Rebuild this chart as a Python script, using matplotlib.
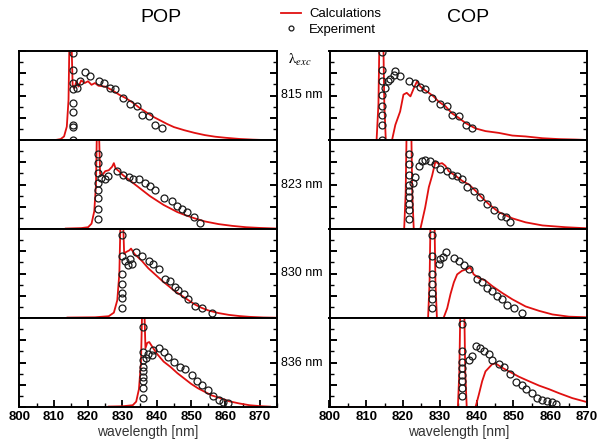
import matplotlib
matplotlib.use("Agg")
import matplotlib.pyplot as plt
from matplotlib.lines import Line2D
from matplotlib.ticker import MultipleLocator

plt.rcParams["font.family"] = ["Liberation Sans", "DejaVu Sans"]
plt.rcParams["mathtext.fontset"] = "stix"

# excitation wavelengths (rows)
exc_labels = ["815 nm", "823 nm", "830 nm", "836 nm"]

# ---- POP, calculations ----
pop815_calc_x = [810.5, 812, 813, 813.8, 814.3, 814.6, 815.1, 815.5, 816.0, 816.6, 817.2, 818, 819, 820, 821,
                 822, 823, 825, 827, 829, 831, 833, 835, 837, 839, 841, 843, 845, 848, 851, 854, 857, 860,
                 864, 868, 871]
pop815_calc_y = [0, 0.01, 0.04, 0.15, 0.45, 1.2, 1.2, 0.62, 0.58, 0.66, 0.6, 0.67, 0.64, 0.66, 0.62, 0.64,
                 0.61, 0.6, 0.56, 0.51, 0.47, 0.42, 0.36, 0.31, 0.26, 0.22, 0.18, 0.145, 0.11, 0.08, 0.055,
                 0.037, 0.025, 0.012, 0.004, 0.0]

pop823_calc_x = [813.5, 818, 820, 821, 821.8, 822.3, 822.6, 823.1, 823.5, 824, 825, 826, 827, 827.5, 828, 829,
                 830, 832, 834, 836, 838, 840, 842, 844, 846, 848, 851, 854, 858, 862, 866, 870, 875]
pop823_calc_y = [0.005, 0.01, 0.02, 0.06, 0.2, 0.5, 1.2, 1.2, 0.62, 0.6, 0.65, 0.66, 0.7, 0.74, 0.68, 0.65,
                 0.61, 0.55, 0.49, 0.43, 0.37, 0.32, 0.27, 0.23, 0.19, 0.16, 0.12, 0.085, 0.055, 0.035, 0.02,
                 0.012, 0.005]

pop830_calc_x = [814, 822, 826, 827.5, 828.5, 829.1, 829.5, 830.1, 830.5, 831, 832, 832.5, 833.5, 835.7,
                 837.5, 839.5, 841.5, 843.4, 845.3, 847.3, 849.2, 851.2, 853, 855, 858, 861, 864, 867, 871, 875]
pop830_calc_y = [0.005, 0.008, 0.02, 0.06, 0.2, 0.5, 1.2, 1.2, 0.72, 0.74, 0.76, 0.78, 0.72, 0.64, 0.56,
                 0.49, 0.42, 0.36, 0.30, 0.25, 0.2, 0.15, 0.115, 0.085, 0.055, 0.035, 0.022, 0.013, 0.006,
                 0.003]

pop836_calc_x = [826, 830, 833, 834, 834.8, 835.4, 835.8, 836.3, 836.7, 837.2, 837.8, 838.3, 840, 842, 844,
                 846, 848, 850, 852, 854, 856, 858.5, 861, 864, 867, 870, 873]
pop836_calc_y = [0.005, 0.008, 0.02, 0.06, 0.2, 0.5, 1.2, 1.2, 0.66, 0.72, 0.73, 0.7, 0.6, 0.51, 0.45,
                 0.38, 0.32, 0.26, 0.21, 0.17, 0.13, 0.1, 0.065, 0.04, 0.02, 0.01, 0.004]

# ---- POP, experiment ----
pop815_exp_x = [815.5] * 9 + [816.8, 817.7, 819.2, 820.6, 823.1, 824.5, 826.5, 827.9, 830.3, 832.3,
                              834.2, 835.7, 837.6, 839.5, 841.5]
pop815_exp_y = [0.98, 0.79, 0.64, 0.57, 0.42, 0.32, 0.17, 0.15, 0.0,
                0.58, 0.66, 0.76, 0.72, 0.66, 0.64, 0.58, 0.57, 0.47, 0.40, 0.38, 0.28, 0.27, 0.17, 0.13]

pop823_exp_x = [823.0] * 8 + [823.8, 825.0, 825.8, 828.4, 830.3, 831.8, 833.1, 834.7, 836.6, 838.1, 839.5,
                              842.0, 844.4, 845.9, 847.3, 848.8, 850.7, 852.6]
pop823_exp_y = [0.84, 0.74, 0.63, 0.52, 0.44, 0.35, 0.22, 0.11,
                0.57, 0.56, 0.59, 0.65, 0.61, 0.58, 0.56, 0.56, 0.52, 0.48, 0.44, 0.35, 0.31, 0.26, 0.22,
                0.19, 0.14, 0.07]

pop830_exp_x = [829.8] * 7 + [830.8, 831.7, 832.7, 832.3, 833.9, 835.7, 837.6, 839.0, 840.5, 842.4, 843.9,
                              845.3, 846.3, 847.8, 849.2, 851.2, 853.1, 856.0]
pop830_exp_y = [0.93, 0.70, 0.49, 0.38, 0.28, 0.23, 0.11,
                0.64, 0.59, 0.61, 0.66, 0.74, 0.70, 0.64, 0.61, 0.55, 0.44, 0.42, 0.35, 0.32, 0.27, 0.21,
                0.14, 0.11, 0.06]

pop836_exp_x = [836.1] * 9 + [836.9, 837.5, 838.6, 838.9, 840.5, 842.0, 843.4, 844.9, 846.8, 848.3, 850.2,
                              851.7, 853.1, 855.0, 856.5, 858.0, 859.4, 860.8]
pop836_exp_y = [0.9, 0.62, 0.53, 0.45, 0.40, 0.34, 0.29, 0.21, 0.10,
                0.55, 0.60, 0.58, 0.64, 0.66, 0.62, 0.56, 0.51, 0.45, 0.43, 0.36, 0.29, 0.25, 0.19, 0.12,
                0.08, 0.06, 0.04]

# ---- COP, calculations ----
cop815_calc_x = [800, 812.8, 813.3, 813.6, 814.6, 814.9, 815.3, 817.0, 817.9, 819.2, 820.1, 821, 822, 822.9,
                 823.8, 824.7, 825.6, 827, 828.3, 829.7, 831.5, 833.3, 835.1, 837, 839.7, 842.4, 846, 849.7,
                 853.3, 857.9, 862.4, 866.9, 870]
cop815_calc_y = [0, 0, 0.4, 1.2, 1.2, 0.4, 0, 0, 0.17, 0.32, 0.51, 0.53, 0.49, 0.58, 0.66, 0.60, 0.57,
                 0.53, 0.49, 0.43, 0.38, 0.30, 0.25, 0.19, 0.13, 0.10, 0.08, 0.05, 0.04, 0.02, 0.01, 0.005, 0]

cop823_calc_x = [800, 820.3, 820.7, 821.0, 822.2, 822.5, 822.9, 824.7, 826, 827, 827.9, 828.8, 829.7, 830.6,
                 831.5, 832.4, 834.2, 836.1, 837.9, 839.7, 841.5, 843.3, 846, 849.7, 853.3, 857.9, 864.2, 870]
cop823_calc_y = [0, 0, 0.4, 1.2, 1.2, 0.4, 0, 0, 0.24, 0.47, 0.6, 0.76, 0.73, 0.74, 0.71, 0.65, 0.60,
                 0.54, 0.50, 0.43, 0.35, 0.28, 0.19, 0.12, 0.075, 0.04, 0.02, 0.008]

cop830_calc_x = [800, 826.8, 827.2, 827.5, 828.5, 828.8, 829.2, 831, 832, 832.9, 833.8, 834.7, 836, 837.4,
                 838.3, 839.2, 840.6, 842.4, 844.2, 847, 849.7, 853.3, 857, 860.6, 865.1, 870]
cop830_calc_y = [0, 0, 0.4, 1.2, 1.2, 0.4, 0, 0, 0.11, 0.27, 0.40, 0.49, 0.53, 0.55, 0.57, 0.49, 0.45,
                 0.42, 0.36, 0.28, 0.21, 0.13, 0.08, 0.04, 0.015, 0.008]

cop836_calc_x = [800, 834.9, 835.3, 835.6, 836.6, 836.9, 837.3, 839.7, 840.6, 841.5, 842.4, 843.3, 844.2,
                 845.1, 847, 848.8, 851.5, 854.2, 857, 859.7, 862.4, 866, 870]
cop836_calc_y = [0, 0, 0.4, 1.2, 1.2, 0.4, 0, 0, 0.14, 0.29, 0.40, 0.44, 0.48, 0.49, 0.44, 0.40, 0.34,
                 0.29, 0.24, 0.20, 0.155, 0.10, 0.055]

# ---- COP, experiment ----
cop815_exp_x = [814.2] * 8 + [815.1, 816.0, 816.5, 817.4, 817.9, 819.2, 821.5, 823.3, 824.7, 826.0, 827.8,
                              830.1, 831.9, 833.3, 835.1, 837.0, 838.8]
cop815_exp_y = [0.99, 0.79, 0.66, 0.51, 0.38, 0.28, 0.17, 0.0,
                0.58, 0.66, 0.68, 0.73, 0.77, 0.72, 0.66, 0.64, 0.60, 0.57, 0.47, 0.40, 0.38, 0.28, 0.27,
                0.17, 0.13]

cop823_exp_x = [821.5] * 9 + [822.6, 823.3, 824.2, 825.1, 826.0, 827.4, 828.8, 830.1, 832.0, 833.3, 834.7,
                              836.1, 837.4, 839.2, 841.0, 842.9, 844.7, 846.5, 847.9, 849.2]
cop823_exp_y = [0.84, 0.73, 0.61, 0.50, 0.43, 0.36, 0.28, 0.21, 0.11,
                0.52, 0.58, 0.71, 0.76, 0.78, 0.76, 0.73, 0.67, 0.65, 0.61, 0.60, 0.56, 0.47, 0.43, 0.36,
                0.28, 0.21, 0.15, 0.13, 0.08]

cop830_exp_x = [827.9] * 7 + [829.7, 830.1, 830.8, 831.7, 833.8, 835.1, 836.5, 837.9, 840.1, 841.5, 842.9,
                              844.2, 845.6, 847.0, 848.3, 850.1, 852.4]
cop830_exp_y = [0.93, 0.70, 0.49, 0.38, 0.28, 0.21, 0.11,
                0.61, 0.66, 0.68, 0.74, 0.67, 0.64, 0.59, 0.55, 0.44, 0.40, 0.34, 0.30, 0.25, 0.21, 0.15,
                0.11, 0.06]

cop836_exp_x = [835.9] * 8 + [837.9, 838.8, 839.7, 840.8, 842.0, 843.3, 844.2, 846.0, 847.4, 849.2, 850.6,
                              852.4, 853.3, 855.1, 856.5, 857.9, 859.2, 860.6, 861.5]
cop836_exp_y = [0.93, 0.63, 0.51, 0.44, 0.36, 0.29, 0.21, 0.12,
                0.53, 0.57, 0.68, 0.66, 0.63, 0.59, 0.53, 0.48, 0.45, 0.37, 0.28, 0.25, 0.20, 0.16, 0.10,
                0.08, 0.07, 0.06, 0.03]

pop_calc = [(pop815_calc_x, pop815_calc_y), (pop823_calc_x, pop823_calc_y),
            (pop830_calc_x, pop830_calc_y), (pop836_calc_x, pop836_calc_y)]
pop_exp = [(pop815_exp_x, pop815_exp_y), (pop823_exp_x, pop823_exp_y),
           (pop830_exp_x, pop830_exp_y), (pop836_exp_x, pop836_exp_y)]
cop_calc = [(cop815_calc_x, cop815_calc_y), (cop823_calc_x, cop823_calc_y),
            (cop830_calc_x, cop830_calc_y), (cop836_calc_x, cop836_calc_y)]
cop_exp = [(cop815_exp_x, cop815_exp_y), (cop823_exp_x, cop823_exp_y),
           (cop830_exp_x, cop830_exp_y), (cop836_exp_x, cop836_exp_y)]

RED = "#e01010"
W, H = 603, 447

fig = plt.figure(figsize=(W / 100, H / 100), dpi=100)

columns = [
    (19.4, 277.0, (800, 875), pop_calc, pop_exp),
    (329.5, 587.0, (800, 870), cop_calc, cop_exp),
]
top_px, row_px = 51, 89

for left_px, right_px, xlim, calcs, exps in columns:
    for i in range(4):
        y_top = top_px + row_px * i
        ax = fig.add_axes([left_px / W, 1 - (y_top + row_px) / H,
                           (right_px - left_px) / W, row_px / H])
        cx, cy = calcs[i]
        ex, ey = exps[i]
        ax.plot(cx, cy, color=RED, lw=1.3, zorder=2, clip_on=True)
        ax.plot(ex, ey, "o", ms=5, mfc="none", mec="#1a1a1a", mew=0.9, zorder=3)
        ax.set_xlim(*xlim)
        ax.set_ylim(0, 1)
        ax.yaxis.set_major_locator(MultipleLocator(0.25))
        ax.yaxis.set_minor_locator(MultipleLocator(0.125))
        ax.xaxis.set_major_locator(MultipleLocator(10))
        ax.xaxis.set_minor_locator(MultipleLocator(5))
        for s in ax.spines.values():
            s.set_linewidth(1.4)
        ax.tick_params(axis="y", which="both", direction="in", left=True, right=True,
                       labelleft=False)
        ax.tick_params(axis="y", which="major", length=5, width=1.4)
        ax.tick_params(axis="y", which="minor", length=3, width=1.0)
        if i < 3:
            ax.tick_params(axis="x", which="both", bottom=False, labelbottom=False)
        else:
            ax.tick_params(axis="x", which="both", direction="in", top=False, pad=3)
            ax.tick_params(axis="x", which="major", length=5, width=1.3, labelsize=9.5)
            ax.tick_params(axis="x", which="minor", length=3, width=1.0)
            for lab in ax.get_xticklabels():
                lab.set_fontweight("bold")
            ax.set_xlabel("wavelength [nm]", fontsize=10, labelpad=1, color="#333333")

for i, lab in enumerate(exc_labels):
    yc = 1 - (top_px + row_px * i + row_px / 2) / H
    fig.text(0.5, yc, lab, ha="center", va="center", fontsize=9)
fig.text(0.497, 1 - 60 / H, r"$\mathrm{\lambda}_{exc}$", ha="center", va="center", fontsize=11)

fig.text(161 / W, 1 - 18 / H, "POP", ha="center", va="center", fontsize=14)
fig.text(468 / W, 1 - 18 / H, "COP", ha="center", va="center", fontsize=14)

handles = [Line2D([], [], color=RED, lw=1.3),
           Line2D([], [], ls="none", marker="o", ms=3.5, mfc="none", mec="#1a1a1a", mew=0.9)]
fig.legend(handles, ["Calculations", "Experiment"], loc="upper left",
           bbox_to_anchor=(272 / W, 1.003), frameon=False, fontsize=9.5,
           handlelength=1.5, handletextpad=0.6, labelspacing=0.25, borderpad=0.2)

fig.savefig("out.png", dpi=100)
